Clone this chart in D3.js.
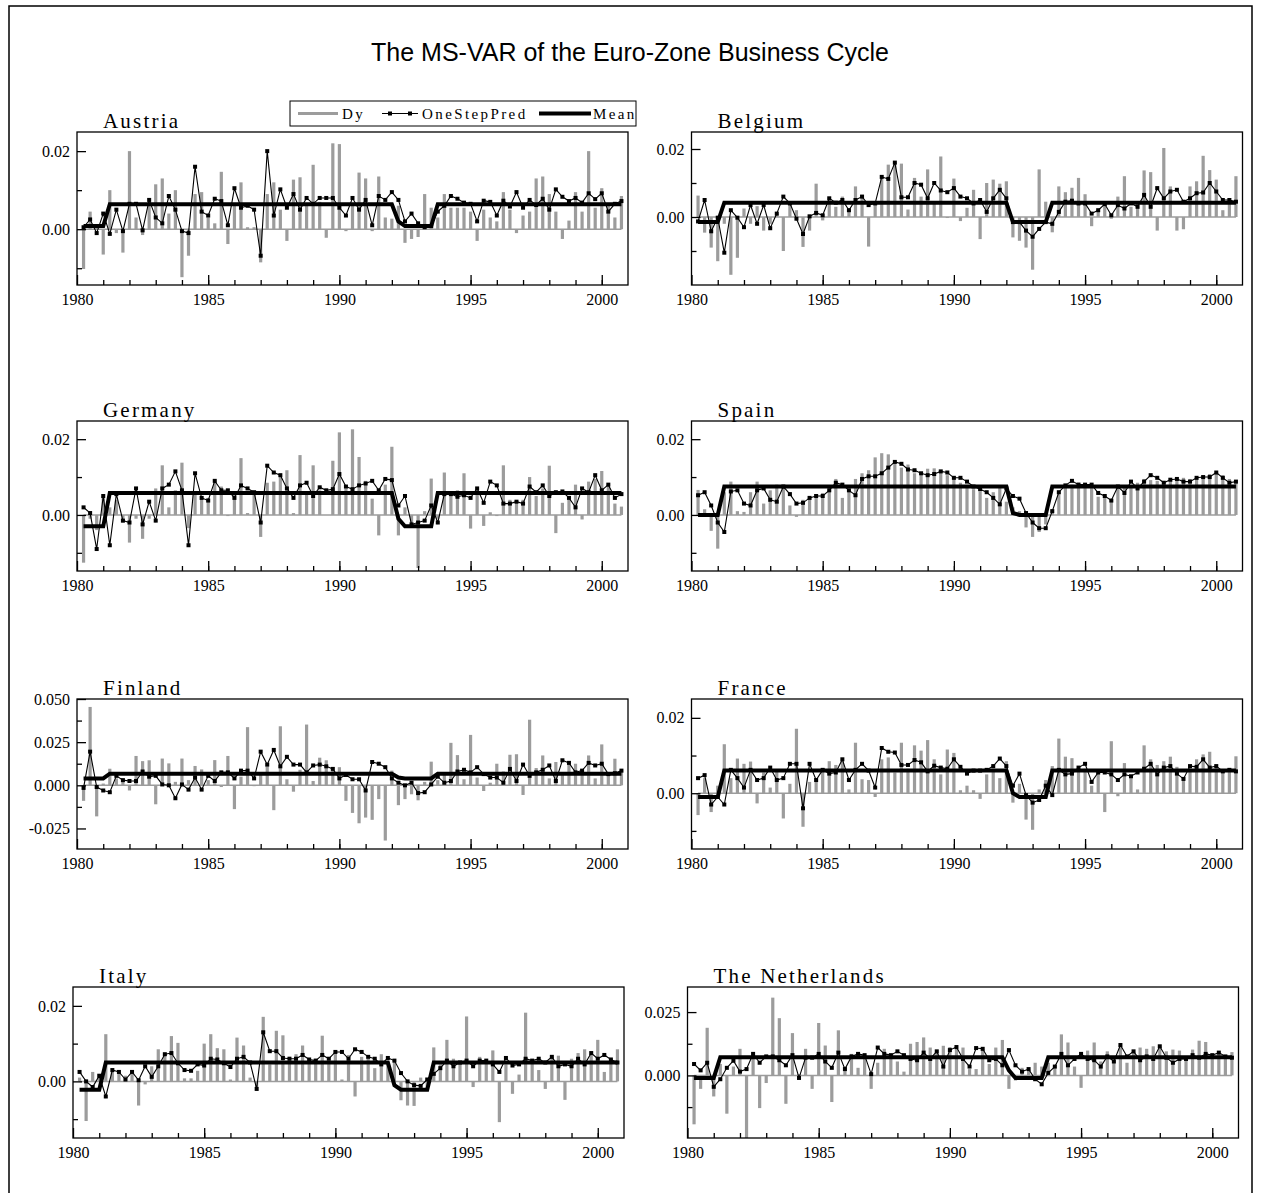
<!DOCTYPE html>
<html>
<head>
<meta charset="utf-8">
<script src="https://cdn.jsdelivr.net/npm/d3@7"></script>
<style>
body { margin: 0; background: #fff; }
svg text { font-family: "Liberation Serif", "Times New Roman", serif; }
</style>
</head>
<body>
<div id="chart"></div>
<script>
// quarterly sample 1980(2) - 2000(4)
var startQuarter = 1980.25;
var nObs = 83;
var xTickYears = [1980, 1985, 1990, 1995, 2000];
var legendNames = ["Dy", "OneStepPred", "Mean"];
var countryNames = ["Austria", "Belgium", "Germany", "Spain", "Finland", "France", "Italy", "The Netherlands"];

var austriaDy = [-0.0102, 0.0045, 0.001,
  -0.0065, 0.010, -0.001, -0.006, 0.020, 0.003, -0.0015, 0.007, 0.0115, 0.013, 0.004, 0.010,
  -0.0123, -0.0068, 0.009, 0.0095, 0.003, 0.0015, 0.0147, -0.0038, 0.006, 0.012, 0.0005, 0.0005,
  -0.0085, 0.009, 0.012, 0.005, -0.003, 0.0127, 0.0133, 0.006, 0.0165, 0.007, -0.0022, 0.022,
  0.0218, -0.0005, 0.006, 0.0145, 0.013, -0.0005, 0.0135, 0.003, 0.0027, 0.006, -0.0035, -0.0025,
  -0.002, 0.009, 0.0055, 0.003, 0.009, 0.0055, 0.0055, 0.0055, 0.0045, -0.003, 0.005, 0.003,
  0.002, 0.0095, 0.005, -0.001, 0.0035, 0.0045, 0.013, 0.0135, 0.009, 0.0045, -0.0025, 0.0022,
  0.0095, 0.0045, 0.020, 0.0055, 0.0105, 0.006, 0.003, 0.0085];
var austriaPred = [0.0005, 0.0025, -0.001,
  0.004, -0.0012, 0.005, -0.0005, 0.0065, 0.0065, -0.0003, 0.0075, 0.003, 0.0015, 0.0085, 0.005,
  -0.0005, -0.001, 0.016, 0.0045, 0.0035, 0.0078, 0.0072, 0.001, 0.0105, 0.0055, 0.006, 0.005,
  -0.0068, 0.020, 0.0035, 0.0102, 0.0055, 0.009, 0.005, 0.008, 0.0065, 0.008, 0.008, 0.008,
  0.0055, 0.0035, 0.008, 0.005, 0.0075, 0.001, 0.0085, 0.0075, 0.0095, 0.0075, 0.002, 0.004,
  0.0015, 0.0005, 0.0008, 0.0045, 0.006, 0.0085, 0.0078, 0.0068, 0.0065, 0.002, 0.0073, 0.007,
  0.0035, 0.0073, 0.0058, 0.0095, 0.0055, 0.0075, 0.0062, 0.0078, 0.005, 0.0102, 0.0083, 0.0072,
  0.008, 0.0068, 0.0092, 0.0077, 0.0092, 0.0045, 0.0065, 0.0072];
var austriaMean = [[1980.25, 0.0008], [1981.0, 0.0008], [1981.25, 0.0064], [1992.0, 0.0064], [1992.25, 0.002],
  [1992.5, 0.0008], [1993.5, 0.0008], [1993.75, 0.0064], [2000.75, 0.0064]];

var belgiumDy = [0.0063, -0.0046, -0.009,
  -0.013, -0.002, -0.017, -0.012, 0.0025, -0.002, 0.0032, -0.004, -0.002, 0.001, -0.010, 0.004,
  0.002, -0.0088, -0.004, 0.0098, -0.001, 0.0057, 0.003, 0.006, 0.002, 0.009, 0.0065, -0.0087,
  0.004, 0.0115, 0.0154, 0.016, 0.0157, 0.0022, 0.0115, 0.006, 0.014, 0.004, 0.0178, -0.0003,
  0.0113, -0.0012, 0.0027, 0.008, -0.0065, 0.010, 0.011, 0.0098, 0.0105, -0.006, -0.007, -0.009,
  -0.0155, 0.014, 0.0045, -0.0045, 0.009, 0.0073, 0.0086, 0.0115, 0.0067, -0.0027, 0.002, 0.0035,
  -0.0005, 0.006, 0.012, 0.003, 0.004, 0.0137, 0.0132, -0.004, 0.0203, 0.009, -0.004, -0.0036,
  0.009, 0.0105, 0.018, 0.0138, 0.011, 0.002, 0.0055, 0.012];
var belgiumPred = [-0.0013, 0.005, -0.0042,
  -0.0002, -0.0105, 0.002, -0.0002, -0.003, 0.0035, -0.002, 0.0035, -0.0033, 0.001, 0.006, 0.004,
  -0.0005, -0.005, 0.0002, 0.0012, 0.0005, 0.0055, 0.0042, 0.005, 0.002, 0.005, 0.006, 0.0035,
  0.004, 0.0118, 0.0112, 0.016, 0.0058, 0.0058, 0.010, 0.0095, 0.0055, 0.010, 0.0078, 0.0073,
  0.0085, 0.006, 0.0055, 0.004, 0.005, 0.0015, 0.0055, 0.008, 0.0055, -0.0015, -0.0015, -0.004,
  -0.0058, -0.0035, -0.0015, -0.002, 0.0015, 0.0045, 0.0048, 0.004, 0.004, 0.001, 0.002, 0.0038,
  0.0005, 0.0035, 0.0025, 0.004, 0.003, 0.0065, 0.003, 0.0085, 0.0055, 0.0075, 0.008, 0.0045,
  0.0055, 0.007, 0.0072, 0.010, 0.0075, 0.005, 0.005, 0.0045];
var belgiumMean = [[1980.25, -0.0015], [1981.0, -0.0015], [1981.25, 0.0042], [1992.0, 0.0042], [1992.25, -0.0015],
  [1993.5, -0.0015], [1993.75, 0.0042], [2000.75, 0.0042]];

var germanyDy = [-0.0126, -0.001, -0.004,
  0.005, 0.002, 0.004, -0.002, -0.0073, -0.001, -0.0063, -0.001, 0.007, 0.0131, 0.002, 0.0065,
  0.0138, -0.0035, 0.006, 0.005, 0.0045, 0.009, 0.0075, -0.0003, 0.0055, 0.015, 0.0005, 0.006,
  -0.0058, 0.0085, 0.0088, 0.010, 0.0118, 0.0005, 0.0158, 0.006, 0.0131, 0.0065, 0.0, 0.0143,
  0.0218, 0.007, 0.0226, 0.0153, 0.009, 0.0043, -0.0054, 0.008, 0.018, -0.0054, 0.002, -0.0025,
  -0.014, 0.001, 0.0096, -0.001, 0.0112, 0.006, 0.0065, 0.011, -0.0036, 0.0065, -0.0029, 0.0007,
  -0.0003, 0.0131, 0.004, 0.0035, 0.004, 0.010, 0.005, 0.007, 0.013, -0.0048, 0.0032, 0.004,
  0.008, -0.0012, 0.0088, 0.0095, 0.0116, 0.008, 0.003, 0.0022];
var germanyPred = [0.002, 0.0005, -0.009,
  0.005, -0.008, 0.0055, -0.0015, -0.002, 0.007, -0.0025, 0.0035, -0.0015, 0.007, 0.008, 0.0115,
  0.0065, -0.008, 0.011, 0.0045, 0.0038, 0.009, 0.0065, 0.0065, 0.0045, 0.0078, 0.007, 0.006,
  -0.002, 0.013, 0.0112, 0.0105, 0.007, 0.0045, 0.0078, 0.0085, 0.005, 0.0073, 0.0065, 0.0068,
  0.0108, 0.0075, 0.0068, 0.0078, 0.0083, 0.009, 0.0065, 0.0095, 0.0092, 0.0025, 0.005, -0.0025,
  -0.002, -0.0015, 0.0025, -0.002, 0.0055, 0.0055, 0.0048, 0.0052, 0.0045, 0.007, 0.0032, 0.0088,
  0.0078, 0.003, 0.003, 0.0035, 0.003, 0.0075, 0.006, 0.0078, 0.005, 0.006, 0.0062, 0.0045,
  0.002, 0.007, 0.006, 0.0105, 0.0065, 0.008, 0.0045, 0.0055];
var germanyMean = [[1980.25, -0.003], [1981.0, -0.003], [1981.25, 0.0058], [1992.0, 0.0058], [1992.25, -0.001],
  [1992.5, -0.003], [1993.5, -0.003], [1993.75, 0.0058], [2000.75, 0.0058]];

var spainDy = [0.0066, 0.0015, -0.0042,
  -0.0089, 0.006, 0.0088, 0.001, 0.0008, 0.006, 0.0088, 0.003, 0.0065, 0.008, 0.0078, 0.0025,
  -0.0005, 0.004, 0.0045, 0.0055, 0.0058, 0.0075, 0.0095, 0.0045, 0.0065, 0.0095, 0.011, 0.0118,
  0.0152, 0.0163, 0.016, 0.0142, 0.0125, 0.0133, 0.011, 0.0113, 0.0122, 0.0123, 0.0118, 0.0105,
  0.0095, 0.0085, 0.0075, 0.0068, 0.0062, 0.0045, 0.006, 0.0078, 0.0035, 0.002, 0.001, -0.0033,
  -0.0058, -0.0045, -0.0025, 0.0015, 0.0055, 0.0078, 0.008, 0.0085, 0.0078, 0.0075, 0.0048, 0.005,
  0.0042, 0.0075, 0.0078, 0.0075, 0.0085, 0.0095, 0.0092, 0.009, 0.0088, 0.009, 0.0095, 0.0098,
  0.0095, 0.010, 0.0103, 0.0108, 0.011, 0.0105, 0.0095, 0.0085];
var spainPred = [0.0052, 0.006, 0.0025,
  -0.002, -0.0045, 0.0062, 0.0065, 0.003, 0.0025, 0.0065, 0.007, 0.004, 0.0035, 0.0075, 0.0055,
  0.003, 0.0032, 0.0045, 0.005, 0.005, 0.0065, 0.0085, 0.008, 0.0065, 0.0052, 0.0095, 0.0102,
  0.0102, 0.011, 0.0125, 0.014, 0.0135, 0.012, 0.0118, 0.011, 0.0105, 0.0108, 0.0115, 0.0112,
  0.0098, 0.0098, 0.0088, 0.0075, 0.0068, 0.006, 0.0045, 0.0028, 0.007, 0.005, 0.0043, 0.0005,
  -0.002, -0.0035, -0.0035, 0.001, 0.006, 0.0078, 0.009, 0.008, 0.008, 0.008, 0.0058, 0.005,
  0.0038, 0.0075, 0.0058, 0.0088, 0.007, 0.0088, 0.0105, 0.0098, 0.0085, 0.0093, 0.0095, 0.0088,
  0.0088, 0.0098, 0.010, 0.010, 0.0112, 0.0098, 0.0085, 0.0088];
var spainMean = [[1980.25, 0.0], [1981.0, 0.0], [1981.25, 0.0075], [1992.0, 0.0075], [1992.25, 0.0005],
  [1992.5, 0.0], [1993.5, 0.0], [1993.75, 0.0075], [2000.75, 0.0075]];

var finlandDy = [-0.009, 0.0454, -0.018,
  0.001, 0.0096, 0.004, 0.003, -0.003, 0.017, 0.014, 0.0145, -0.011, 0.0155, 0.0127, 0.002,
  0.0155, 0.003, 0.0112, 0.0092, 0.003, 0.0146, -0.001, 0.017, -0.0138, 0.005, 0.0337, -0.0005,
  0.006, 0.011, -0.0144, 0.0342, 0.0035, -0.0037, 0.009, 0.0352, 0.0025, 0.016, 0.0145, 0.0085,
  0.0105, -0.009, -0.016, -0.022, -0.0187, -0.020, -0.008, -0.032, 0.0085, -0.0115, -0.008, -0.0052,
  -0.0087, 0.002, 0.0137, 0.003, 0.006, 0.0246, 0.0175, 0.0035, 0.0292, 0.0045, -0.0033, 0.0015,
  0.0125, 0.008, 0.0177, 0.018, -0.0056, 0.038, 0.010, 0.0173, 0.004, 0.0135, 0.006, 0.0135,
  0.0125, 0.006, 0.0173, 0.004, 0.0237, 0.006, 0.0154, 0.0085];
var finlandPred = [-0.0015, 0.0195, -0.001,
  -0.003, -0.004, 0.0055, 0.003, 0.0025, 0.0025, 0.008, 0.005, 0.0055, 0.0005, 0.0, -0.0075,
  0.0005, -0.0025, 0.0045, -0.0025, 0.0055, 0.0025, 0.0075, 0.0075, 0.004, 0.0085, 0.0085, 0.004,
  0.0195, 0.012, 0.0205, 0.011, 0.0165, 0.012, 0.012, 0.0075, 0.0115, 0.012, 0.011, 0.0095,
  0.004, 0.006, 0.0035, 0.0035, -0.003, 0.0135, 0.0125, 0.0105, 0.004, 0.0015, 0.0, 0.0015,
  -0.0045, -0.004, 0.0005, 0.005, 0.0015, 0.0025, 0.008, 0.009, 0.0075, 0.0105, 0.0065, 0.0045,
  0.0045, 0.0015, 0.0095, 0.0025, 0.012, 0.0055, 0.0075, 0.009, 0.0115, 0.0025, 0.0145, 0.013,
  0.0075, 0.0085, 0.013, 0.0115, 0.0125, 0.0065, 0.007, 0.0085];
var finlandMean = [[1980.25, 0.004], [1981.0, 0.004], [1981.25, 0.0067], [1992.0, 0.0067], [1992.25, 0.0045],
  [1992.5, 0.004], [1993.5, 0.004], [1993.75, 0.0067], [2000.75, 0.0067]];

var franceDy = [-0.0058, 0.004, -0.005,
  0.002, 0.013, 0.004, 0.0092, 0.0078, 0.0084, -0.0027, 0.0055, 0.0015, 0.0062, -0.0067, 0.0025,
  0.0171, -0.0089, 0.003, 0.004, 0.0065, 0.0085, 0.0075, 0.0085, 0.001, 0.0134, 0.0037, 0.0035,
  -0.001, 0.009, 0.0095, 0.0055, 0.0134, 0.0065, 0.0127, 0.0113, 0.0141, 0.009, 0.005, 0.0116,
  0.0107, 0.0008, 0.002, 0.0008, -0.0015, 0.005, 0.0065, 0.004, 0.0085, -0.0025, 0.0025, -0.007,
  -0.0097, 0.001, 0.0035, 0.0072, 0.0145, 0.0097, 0.0093, 0.006, 0.0065, 0.002, 0.006, -0.005,
  0.0138, -0.0008, 0.008, 0.0045, 0.001, 0.0127, 0.009, 0.0075, 0.0085, 0.0097, 0.007, 0.004,
  0.0075, 0.009, 0.0103, 0.011, 0.0075, 0.0055, 0.0065, 0.0098];
var francePred = [0.004, 0.0048, -0.003,
  -0.001, -0.003, 0.0062, 0.004, 0.0015, 0.0062, 0.0035, 0.004, 0.0068, 0.0035, 0.004, 0.0078,
  0.0078, -0.004, 0.0078, 0.0035, 0.0062, 0.0052, 0.0055, 0.009, 0.0035, 0.0062, 0.0078, 0.006,
  0.0015, 0.012, 0.011, 0.0108, 0.0075, 0.0075, 0.0088, 0.0082, 0.0058, 0.0073, 0.0068, 0.0065,
  0.009, 0.007, 0.0052, 0.006, 0.006, 0.0062, 0.0072, 0.0092, 0.0072, 0.002, 0.0052, -0.0005,
  -0.0025, -0.0018, 0.002, -0.0005, 0.0062, 0.005, 0.0052, 0.0068, 0.0078, 0.003, 0.0055, 0.0055,
  0.005, 0.0035, 0.005, 0.0045, 0.0055, 0.0065, 0.0078, 0.005, 0.0068, 0.0072, 0.0052, 0.0038,
  0.0072, 0.007, 0.009, 0.0068, 0.0072, 0.0058, 0.0062, 0.0058];
var franceMean = [[1980.25, -0.001], [1981.0, -0.001], [1981.25, 0.006], [1992.0, 0.006], [1992.25, 0.0],
  [1992.5, -0.001], [1993.5, -0.001], [1993.75, 0.006], [2000.75, 0.006]];

var italyDy = [0.001, -0.0105, 0.0025,
  0.001, 0.0125, 0.0025, 0.0025, 0.0015, 0.002, -0.0064, -0.0008, 0.004, 0.0085, 0.0075, 0.012,
  0.0102, 0.0008, 0.0008, 0.0028, 0.010, 0.0125, 0.0088, 0.0085, 0.0005, 0.0116, 0.0095, 0.001,
  -0.0015, 0.0171, 0.0045, 0.0134, 0.0122, 0.0065, 0.0072, 0.0095, 0.0058, 0.006, 0.0121, 0.0055,
  0.0075, 0.0005, 0.007, -0.004, 0.0065, 0.006, 0.0035, 0.0072, 0.005, 0.0055, -0.005, -0.0064,
  -0.0065, 0.001, -0.002, 0.009, 0.0045, 0.011, 0.006, 0.005, 0.0172, -0.0015, 0.0065, 0.005,
  0.0082, -0.0108, 0.0045, -0.0033, 0.0018, 0.0182, 0.0055, 0.003, -0.002, 0.0065, 0.0068, -0.0049,
  0.006, 0.0075, 0.0085, 0.007, 0.011, 0.0025, 0.006, 0.0085];
var italyPred = [0.0025, 0.0, -0.0015,
  0.0015, -0.004, 0.003, 0.0025, 0.0005, 0.0025, 0.0003, 0.004, 0.0012, 0.004, 0.0072, 0.0075,
  0.0048, 0.003, 0.0028, 0.0045, 0.0042, 0.006, 0.0058, 0.0048, 0.0038, 0.006, 0.0065, 0.005,
  -0.002, 0.013, 0.008, 0.008, 0.0062, 0.006, 0.006, 0.007, 0.0058, 0.0055, 0.007, 0.006,
  0.0078, 0.0078, 0.006, 0.0085, 0.0078, 0.0065, 0.006, 0.0045, 0.0062, 0.0055, 0.0022, 0.0,
  -0.001, -0.0012, 0.0005, 0.002, 0.0035, 0.0055, 0.004, 0.005, 0.0055, 0.004, 0.0055, 0.0055,
  0.0045, 0.0025, 0.0062, 0.0042, 0.0045, 0.006, 0.0055, 0.006, 0.005, 0.0065, 0.004, 0.0045,
  0.004, 0.006, 0.0045, 0.0075, 0.006, 0.007, 0.0058, 0.005];
var italyMean = [[1980.25, -0.0022], [1981.0, -0.0022], [1981.25, 0.005], [1992.0, 0.005], [1992.25, -0.001],
  [1992.5, -0.0022], [1993.5, -0.0022], [1993.75, 0.005], [2000.75, 0.005]];

var netherlandsDy = [-0.0193, -0.0053, 0.0188,
  -0.0083, 0.0045, -0.0151, 0.0035, 0.0105, -0.026, 0.0085, -0.0129, -0.003, 0.0307, 0.0226, -0.0112,
  0.0167, 0.0005, 0.0105, -0.0053, 0.0207, 0.0118, -0.0105, 0.0178, 0.0035, 0.0085, 0.003, 0.0085,
  -0.0053, 0.005, 0.0105, 0.0085, 0.0055, 0.0015, 0.0125, 0.0132, 0.015, 0.011, 0.010, 0.0117,
  0.0112, 0.0105, 0.011, 0.0025, 0.0025, 0.0105, 0.0045, 0.011, 0.014, -0.0053, -0.002, 0.003,
  0.0025, 0.005, 0.0035, 0.005, 0.004, 0.0162, 0.013, 0.0035, -0.0049, 0.0098, 0.013, 0.0055,
  0.0095, 0.007, 0.012, 0.005, 0.0095, 0.011, 0.0105, 0.0115, 0.0112, 0.0095, 0.0102, 0.0098,
  0.0075, 0.0102, 0.0137, 0.0132, 0.0075, 0.0088, 0.0075, 0.0092];
var netherlandsPred = [0.0045, 0.002, 0.005,
  -0.0045, -0.0015, 0.003, 0.0058, 0.0015, 0.0025, 0.0085, 0.005, 0.0075, 0.0075, 0.006, 0.004,
  0.008, -0.001, 0.007, 0.007, 0.0085, 0.0055, 0.003, 0.009, 0.0025, 0.0075, 0.0085, 0.008,
  0.0005, 0.011, 0.0085, 0.008, 0.0095, 0.008, 0.0065, 0.006, 0.009, 0.0065, 0.0095, 0.0035,
  0.010, 0.0112, 0.0065, 0.0035, 0.0108, 0.0105, 0.006, 0.0065, 0.004, 0.010, 0.004, 0.0015,
  0.0025, -0.0015, -0.0035, 0.001, 0.0035, 0.0085, 0.004, 0.0065, 0.0085, 0.0065, 0.006, 0.0035,
  0.0075, 0.0055, 0.012, 0.0075, 0.0095, 0.006, 0.0075, 0.0065, 0.0115, 0.007, 0.005, 0.0065,
  0.0065, 0.008, 0.007, 0.0085, 0.008, 0.009, 0.0075, 0.007];
var netherlandsMean = [[1980.25, -0.001], [1981.0, -0.001], [1981.25, 0.0072], [1992.0, 0.0072], [1992.25, 0.002],
  [1992.5, -0.001], [1993.5, -0.001], [1993.75, 0.0072], [2000.75, 0.0072]];

// axis ranges and ticks
var yDomains = [[-0.0143, 0.0249], [-0.020, 0.025], [-0.0148, 0.0248], [-0.0148, 0.0248],
  [-0.0369, 0.050], [-0.0148, 0.025], [-0.015, 0.025], [-0.0247, 0.0349]];
var yLabelTicks = [[0, 0.02], [0, 0.02], [0, 0.02], [0, 0.02], [-0.025, 0, 0.025, 0.05], [0, 0.02], [0, 0.02], [0, 0.025]];
var yMinorTicks = [[-0.01, 0.01], [-0.01, 0.01], [-0.01, 0.01], [-0.01, 0.01], [-0.0125, 0.0125, 0.0375],
  [-0.01, 0.01], [-0.01, 0.01], [-0.0125, 0.0125]];
var yDecimals = [2, 2, 2, 2, 3, 2, 2, 3];

var dyList = [austriaDy, belgiumDy, germanyDy, spainDy, finlandDy, franceDy, italyDy, netherlandsDy];
var predList = [austriaPred, belgiumPred, germanyPred, spainPred, finlandPred, francePred, italyPred, netherlandsPred];
var meanList = [austriaMean, belgiumMean, germanyMean, spainMean, finlandMean, franceMean, italyMean, netherlandsMean];

var quarters = d3.range(nObs).map(function (i) { return startQuarter + i / 4; });

var gray = "#9c9c9c";
var svg = d3.select("#chart").append("svg")
  .attr("width", 1261)
  .attr("height", 1193);

// page frame
svg.append("path")
  .attr("d", "M9,1193 V6 H1252 V1193")
  .attr("fill", "none")
  .attr("stroke", "black")
  .attr("stroke-width", 1.5);

svg.append("text")
  .attr("x", 630)
  .attr("y", 61)
  .attr("text-anchor", "middle")
  .style("font-family", "'Liberation Sans', Arial, sans-serif")
  .style("font-size", "25px")
  .text("The MS-VAR of the Euro-Zone Business Cycle");

var boxWidth = 551;
var rowTop = [132, 421, 699, 987];
var rowHeight = [153, 150, 150, 151];

countryNames.forEach(function (name, k) {
  var row = Math.floor(k / 2), col = k % 2;
  var left = (col == 0 ? 77 : 691.5) - (row == 3 ? 4 : 0);
  var h = rowHeight[row];
  var g = svg.append("g").attr("transform", "translate(" + left + "," + rowTop[row] + ")");

  var x = d3.scaleLinear().domain([1980, 2001]).range([0, boxWidth]);
  var y = d3.scaleLinear().domain(yDomains[k]).range([h, 0]).clamp(true);

  var dy = dyList[k], pred = predList[k];

  g.append("line")
    .attr("x1", x(quarters[0])).attr("x2", x(quarters[nObs - 1]))
    .attr("y1", y(0)).attr("y2", y(0))
    .attr("stroke", gray).attr("stroke-width", 1.5);

  g.selectAll("rect.bar")
    .data(dy)
    .enter()
    .append("rect")
    .attr("class", "bar")
    .attr("x", function (d, i) { return x(quarters[i]) - 1.6; })
    .attr("y", function (d) { return Math.min(y(d), y(0)); })
    .attr("width", 3.2)
    .attr("height", function (d) { return Math.abs(y(d) - y(0)); })
    .attr("fill", gray);

  g.append("path")
    .datum(meanList[k])
    .attr("d", d3.line().x(function (d) { return x(d[0]); }).y(function (d) { return y(d[1]); }))
    .attr("fill", "none")
    .attr("stroke", "black")
    .attr("stroke-width", 4);

  g.append("path")
    .datum(pred)
    .attr("d", d3.line().x(function (d, i) { return x(quarters[i]); }).y(function (d) { return y(d); }))
    .attr("fill", "none")
    .attr("stroke", "black")
    .attr("stroke-width", 1.1);

  g.selectAll("rect.mark")
    .data(pred)
    .enter()
    .append("rect")
    .attr("class", "mark")
    .attr("x", function (d, i) { return x(quarters[i]) - 2; })
    .attr("y", function (d) { return y(d) - 2; })
    .attr("width", 4)
    .attr("height", 4)
    .attr("fill", "black");

  // ticks point into the plot
  var xMinor = d3.axisBottom(x).tickValues(d3.range(1981, 2001)).tickSize(-5).tickFormat("");
  var xMajor = d3.axisBottom(x).tickValues(xTickYears).tickSize(-10).tickPadding(9).tickFormat(d3.format("d"));
  var yMinor = d3.axisLeft(y).tickValues(yMinorTicks[k]).tickSize(-5).tickFormat("");
  var yMajor = d3.axisLeft(y).tickValues(yLabelTicks[k]).tickSize(-9).tickPadding(7)
    .tickFormat(function (d) { return d.toFixed(yDecimals[k]); });

  [[xMinor, "b"], [xMajor, "b"], [yMinor, "l"], [yMajor, "l"]].forEach(function (a) {
    var ag = g.append("g")
      .attr("transform", a[1] == "b" ? "translate(0," + h + ")" : null)
      .call(a[0]);
    ag.select(".domain").remove();
    ag.selectAll("line").attr("stroke-width", 1.3);
    ag.selectAll("text")
      .style("font-family", "'Liberation Serif', serif")
      .style("font-size", "16px")
      .attr("fill", "black");
  });

  g.append("rect")
    .attr("width", boxWidth)
    .attr("height", h)
    .attr("fill", "none")
    .attr("stroke", "black")
    .attr("stroke-width", 1.3);

  g.append("text")
    .attr("x", 26)
    .attr("y", -4)
    .style("font-size", "21px")
    .style("letter-spacing", "2.2px")
    .text(name);
});

// legend in the Austria panel
var lg = svg.append("g").attr("transform", "translate(290,101)");
lg.append("rect")
  .attr("width", 346).attr("height", 25)
  .attr("fill", "white").attr("stroke", "black").attr("stroke-width", 1);
var legendStyle = [
  { x: 8, w: 40, stroke: gray, sw: 3, marks: false },
  { x: 92, w: 36, stroke: "black", sw: 1.1, marks: true },
  { x: 249, w: 52, stroke: "black", sw: 4, marks: false }
];
var legendText = [52, 132, 303];
legendNames.forEach(function (n, i) {
  var s = legendStyle[i];
  lg.append("line")
    .attr("x1", s.x).attr("x2", s.x + s.w)
    .attr("y1", 12.5).attr("y2", 12.5)
    .attr("stroke", s.stroke).attr("stroke-width", s.sw);
  if (s.marks) {
    [s.x + 8, s.x + s.w - 8].forEach(function (mx) {
      lg.append("rect").attr("x", mx - 2).attr("y", 10.5).attr("width", 4).attr("height", 4).attr("fill", "black");
    });
  }
  lg.append("text")
    .attr("x", legendText[i])
    .attr("y", 18)
    .style("font-size", "15px")
    .style("letter-spacing", "2.4px")
    .text(n);
});
</script>
</body>
</html>
